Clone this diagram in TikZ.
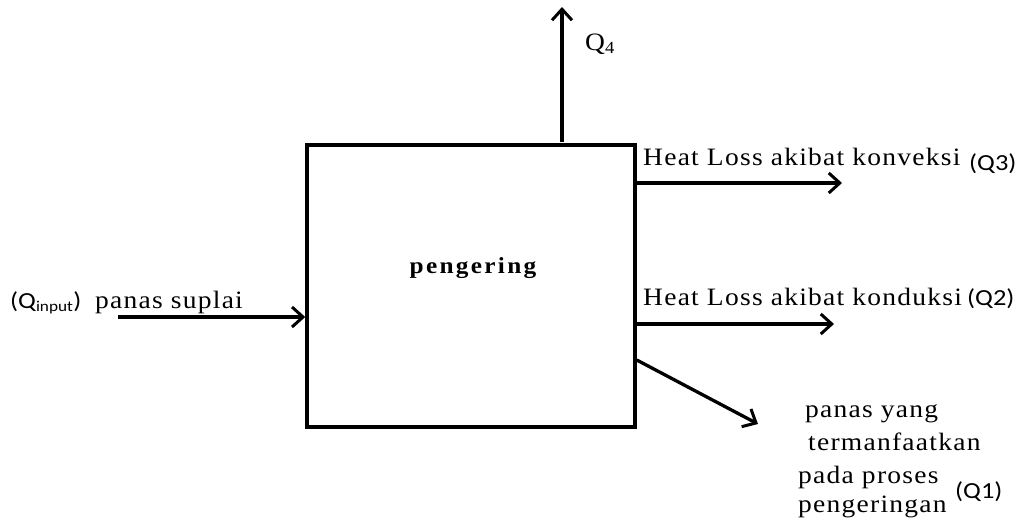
\documentclass[tikz,border=0pt]{standalone}
\usepackage{fontspec}
\setmainfont{Liberation Serif}[FakeStretch=1.1,LetterSpace=5]
\setsansfont{Carlito}[FakeStretch=1.15]
\usetikzlibrary{arrows.meta}
\begin{document}
\begin{tikzpicture}[x=1pt,y=-1pt,
  flow/.style={line width=3.3pt,-{Straight Barb[length=11pt,width=20pt,line width=3pt]}},
  lbl/.style={font=\fontsize{25}{28}\selectfont,inner sep=0pt,anchor=base west},
  qs/.style={font=\sffamily\fontsize{23}{26}\selectfont,inner sep=0pt,anchor=base west}]
\useasboundingbox (0,0) rectangle (1024,528);
\node[draw,line width=3.5pt,minimum width=328pt,minimum height=282pt,inner sep=0pt] (box) at (471,286) {};
\node[font=\bfseries\fontsize{23}{26}\selectfont\addfontfeatures{LetterSpace=10},inner sep=0pt,anchor=base] (name) at (473,273) {pengering};
% top output Q4
\coordinate (q4s) at (562,142);
\coordinate (q4e) at (562,7);
\draw[flow] (q4s) -- (q4e);
\node[lbl] (q4) at (585,50) {Q\textsubscript{\fontsize{17}{18}\selectfont 4}};
% input
\coordinate (ins) at (118,317);
\draw[flow] (ins) -- (box.west |- ins);
\node[qs] (qin) at (10,308) {(Q\textsubscript{\fontsize{15}{16}\selectfont input})};
\node[lbl] (sup) at (95,308) {panas suplai};
% convection
\coordinate (c3s) at (box.east |- 0,183);
\coordinate (c3e) at (842,183);
\draw[flow] (c3s) -- (c3e);
\node[lbl] (t3) at (643,165) {Heat Loss akibat konveksi};
\node[qs] (q3) at (969,170) {(Q3)};
% conduction
\coordinate (c2s) at (box.east |- 0,324);
\coordinate (c2e) at (834,324);
\draw[flow] (c2s) -- (c2e);
\node[lbl] (t2) at (643,305) {Heat Loss akibat konduksi};
\node[qs] (q2) at (967,305) {(Q2)};
% Q1
\coordinate (c1s) at (box.east |- 0,360);
\coordinate (c1e) at (758,424);
\draw[flow] (c1s) -- (c1e);
\node[lbl] (t1a) at (805,417) {panas yang};
\node[lbl] (t1b) at (808,450) {termanfaatkan};
\node[lbl] (t1c) at (798,483) {pada proses};
\node[lbl] (t1d) at (798,512) {pengeringan};
\node[qs] (q1) at (955,498) {(Q1)};
\end{tikzpicture}
\end{document}
